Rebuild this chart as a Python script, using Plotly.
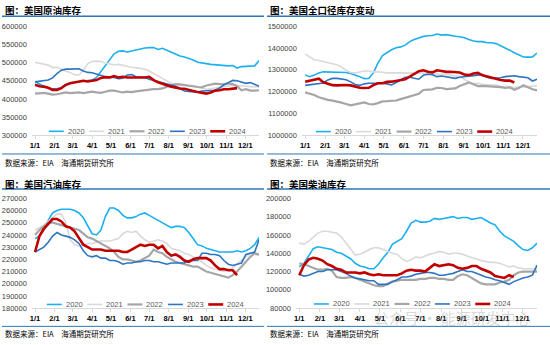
import numpy as np
import pandas as pd
import plotly.graph_objects as go

# ---------------- data (thousand barrels, weekly from 1/1) ----------------
years = ["2020", "2021", "2022", "2023", "2024"]
month_labels = ["1/1", "2/1", "3/1", "4/1", "5/1", "6/1", "7/1", "8/1", "9/1", "10/1", "11/1", "12/1"]

crude_2020 = [448,441,435,430,428,429,431,437,443,446, 448,450,451,452,459,475,491,508,524,531,
              532,529,532,534,536,540,541,541,536,539, 534,528,524,518,515,512,507,501,500,497,
              495,494,492,491,491,492,485,489,490,490, 491,506]
crude_2021 = [501,499,497,493,486,487,482,476,473,467, 466,479,497,503,504,503,499,496,494,495,
              492,490,487,486,485,482,477,470,463,456, 449,443,440,439,438,436,435,433,430,427,
              428,430,434,436,438,438,437,435,435,434, 433,433]
crude_2022 = [415,416,417,415,412,413,416,418,416,418, 418,416,418,420,418,417,420,423,423,420,
              418,420,419,421,423,425,427,427,427,429, 434,438,441,440,439,437,435,433,432,437,
              439,442,441,440,443,441,435,424,427,423, 423,424]
crude_2023 = [447,449,451,452,458,470,479,482,482,483, 483,477,473,472,468,463,461,459,459,456,
              457,466,467,461,459,459,454,451,447,445, 442,438,435,429,422,421,421,419,422,423,
              422,424,430,439,445,451,450,446,443,445, 439,435]
crude_2024 = [439,435,434,431,425,425,430,439,443,446, 448,450,448,450,452,458,460,459,463,459,
              461,459,459,458,458,459,461,452,446,443, 438,434,431,429,428,426,422,419,417,415,
              418,423,424,427,427,428,430]

total_2020 = [1276,1269,1276,1286,1291,1291,1291,1291,1291,1288, 1283,1277,1269,1260,1261,1286,1331,1365,1380,1392,
              1401,1405,1413,1429,1439,1447,1453,1456,1457,1464, 1459,1461,1459,1454,1451,1447,1439,1432,1429,1429,
              1424,1424,1420,1410,1402,1390,1378,1368,1359,1358, 1359,1377]
total_2021 = [1372,1358,1346,1343,1337,1332,1328,1323,1313,1298, 1288,1286,1291,1295,1295,1291,1291,1288,1286,1286,
              1286,1288,1288,1286,1286,1286,1285,1283,1283,1282, 1280,1279,1276,1272,1269,1257,1245,1237,1239,1234,
              1231,1231,1230,1224,1224,1224,1218,1223,1221,1224, 1226,1227]
total_2022 = [1197,1191,1185,1175,1168,1163,1159,1156,1150,1144, 1138,1142,1147,1151,1144,1142,1148,1156,1157,1157,
              1160,1166,1172,1178,1183,1191,1208,1209,1211,1218, 1217,1212,1212,1215,1226,1234,1242,1234,1226,1227,
              1226,1223,1221,1221,1217,1220,1209,1217,1230,1220, 1211,1206]
total_2023 = [1229,1231,1234,1236,1240,1254,1261,1261,1258,1255, 1245,1233,1229,1236,1239,1239,1242,1239,1236,1231,
              1242,1254,1266,1266,1261,1257,1275,1280,1278,1269, 1272,1269,1266,1261,1266,1269,1273,1276,1276,1278,
              1266,1261,1261,1264,1269,1272,1273,1269,1266,1264, 1249,1257]
total_2024 = [1246,1251,1257,1260,1243,1236,1230,1229,1231,1231, 1229,1224,1218,1217,1218,1230,1239,1239,1245,1246,
              1249,1252,1257,1269,1283,1294,1298,1291,1288,1298, 1295,1291,1291,1291,1288,1279,1276,1283,1286,1275,
              1269,1263,1258,1254,1251,1251,1242]

gasoline_2020 = [237,239,244,252,258,260,261,261,261,260, 258,254,247,241,240,244,255,262,262,260,
                 256,254,254,255,257,258,256,254,252,250, 248,246,247,247,246,242,237,232,231,229,
                 228,227,226,226,226,226,227,226,227,229, 232,238]
gasoline_2021 = [244,246,248,251,254,257,257,250,236,232, 231,232,233,233,234,235,235,235,236,237,
                 241,243,242,243,239,236,234,235,236,235, 233,229,228,227,225,224,222,220,218,215,
                 213,212,211,210,211,213,216,219,222,225, 224,223]
gasoline_2022 = [240,244,247,250,250,249,248,247,246,245, 244,241,238,237,235,233,231,229,226,222,
                 220,220,219,218,219,221,223,228,226,225, 222,220,218,217,216,215,214,214,212,210,
                 209,208,207,206,205,207,210,214,218,222, 225,224]
gasoline_2023 = [226,228,230,234,239,242,240,239,238,236, 233,227,223,222,223,221,221,219,219,218,
                 216,217,217,218,218,219,219,218,218,217, 216,217,217,217,217,219,219,219,225,225,
                 224,224,223,219,216,215,216,217,224,225, 226,236]
gasoline_2024 = [226,239,245,249,253,253,251,247,246,243, 238,232,230,228,228,228,227,227,227,227,
                 226,226,228,230,232,231,232,232,229,231, 226,223,224,222,219,218,220,221,221,221,
                 219,215,212,212,211,211,207]

distillate_2020 = [125,129,137,145,147,146,145,144,141,140, 137,134,129,126,125,123,123,128,135,141,
                   150,153,156,164,173,176,174,174,175,178, 177,178,179,180,178,179,179,177,178,179,
                   176,173,171,164,159,156,153,148,144,143, 146,151]
distillate_2021 = [151,150,153,158,162,164,164,163,162,158, 151,144,138,139,141,144,146,146,144,142,
                   140,139,134,131,133,136,135,137,139,140, 142,141,139,140,140,139,137,135,134,132,
                   131,130,130,129,127,125,126,124,123,123, 123,122]
distillate_2022 = [129,128,126,124,122,122,123,121,114,113, 113,114,113,111,109,107,105,104,104,107,
                   109,110,111,111,111,111,112,112,113,113, 112,112,111,111,115,117,116,113,110,107,
                   106,106,106,108,109,111,116,119,120,120, 120,120]
distillate_2023 = [117,115,116,118,120,120,122,122,122,120, 118,115,113,112,111,110,110,106,106,106,
                   109,111,114,114,115,117,118,119,119,118, 116,116,117,118,120,122,120,120,118,116,
                   114,113,111,110,108,106,109,111,113,114, 116,127]
distillate_2024 = [116,127,133,135,134,132,128,126,123,122, 119,119,119,118,119,117,116,117,116,116,
                   116,116,118,121,122,121,121,120,124,128, 126,127,128,127,124,123,124,126,126,123,
                   121,119,115,114,113,116,114]

crude = [crude_2020, crude_2021, crude_2022, crude_2023, crude_2024]
total = [total_2020, total_2021, total_2022, total_2023, total_2024]
gasoline = [gasoline_2020, gasoline_2021, gasoline_2022, gasoline_2023, gasoline_2024]
distillate = [distillate_2020, distillate_2021, distillate_2022, distillate_2023, distillate_2024]

titles = ["图：美国原油库存", "图：美国全口径库存变动", "图：美国汽油库存", "图：美国柴油库存"]
source_text = "数据来源：EIA　海通期货研究所"

# ---------------- style ----------------
W, H = 550, 345
colors = ["#1CB0EE", "#D9D9D9", "#A6A6A6", "#2E75C0", "#C00000"]
widths = [1.6, 1.6, 2.2, 1.6, 2.6]
CJK = "Noto Sans CJK SC"
NUM = "Liberation Sans"
BLUE = "#2E75B6"


def px(x):
    return x / W


def py(y):
    return 1 - y / H


weeks = pd.date_range("2024-01-01", periods=52, freq="7D")
month_ticks = pd.date_range("2024-01-01", periods=12, freq="MS")
xr = ["2023-12-27", "2024-12-23"]

panels = [
    dict(data=crude, xdom=(30, 258), ydom=(22.7, 135), yr=(300000, 600000), dt=50000,
         left=0, right=263, tline=12.5, bline=154, src=162.5, ty=6.5, leg=(47, 130.7)),
    dict(data=total, xdom=(301, 537), ydom=(22.7, 135), yr=(1000000, 1500000), dt=100000,
         left=266, right=550, tline=12.5, bline=154, src=162.5, ty=6.5, leg=(315, 131.0)),
    dict(data=gasoline, xdom=(30, 258), ydom=(199.5, 312.3), yr=(180000, 270000), dt=10000,
         left=0, right=263, tline=190, bline=331, src=338, ty=184.5, leg=(45, 308.5)),
    dict(data=distillate, xdom=(295, 537), ydom=(199.5, 312.3), yr=(80000, 200000), dt=20000,
         left=266, right=550, tline=190, bline=331, src=338, ty=184.5, leg=(313, 308.0)),
]

fig = go.Figure()
shapes = []
annotations = []
layout_axes = {}

for k, p in enumerate(panels):
    sfx = "" if k == 0 else str(k + 1)
    for i, yr in enumerate(years):
        vals = np.array(p["data"][i], dtype=float) * 1000
        fig.add_trace(go.Scatter(
            x=weeks[:len(vals)], y=vals, mode="lines", name=yr,
            line=dict(color=colors[i], width=widths[i]),
            xaxis="x" + sfx, yaxis="y" + sfx, showlegend=False, hoverinfo="skip"))
    layout_axes["xaxis" + sfx] = dict(
        domain=[px(p["xdom"][0]), px(p["xdom"][1])], anchor="y" + sfx,
        type="date", range=xr, tickvals=list(month_ticks), ticktext=month_labels,
        showgrid=False, zeroline=False, showline=True, linecolor="#D9D9D9", linewidth=1,
        ticks="outside", ticklen=3, tickcolor="#D9D9D9",
        tickfont=dict(family=NUM, size=7.5, color="#000000", weight="bold"),
    )
    layout_axes["yaxis" + sfx] = dict(
        domain=[py(p["ydom"][1]), py(p["ydom"][0])], anchor="x" + sfx,
        range=list(p["yr"]), dtick=p["dt"], tickformat="d",
        showgrid=False, zeroline=False, showline=False, ticks="",
        ticklabelstandoff=4,
        tickfont=dict(family=NUM, size=7.5, color="#404040"),
    )
    # title and rules
    annotations.append(dict(text="<b>" + titles[k] + "</b>", x=px(p["left"] + 1), y=py(p["ty"]),
                            xref="paper", yref="paper", xanchor="left", yanchor="middle",
                            showarrow=False, font=dict(family=CJK, size=9.5, color="#000000")))
    annotations.append(dict(text=source_text, x=px(p["left"] + 1), y=py(p["src"]),
                            xref="paper", yref="paper", xanchor="left", yanchor="middle",
                            showarrow=False, font=dict(family=CJK, size=7.5, color="#000000")))
    shapes.append(dict(type="line", xref="paper", yref="paper",
                       x0=px(p["left"]), x1=px(p["right"]), y0=py(p["tline"]), y1=py(p["tline"]),
                       line=dict(color=BLUE, width=1.5)))
    shapes.append(dict(type="line", xref="paper", yref="paper",
                       x0=px(p["left"]), x1=px(p["right"]), y0=py(p["bline"]), y1=py(p["bline"]),
                       line=dict(color=BLUE, width=1)))
    # custom legend
    lx, ly = p["leg"]
    for i, yr in enumerate(years):
        x0 = lx + i * 40.5
        shapes.append(dict(type="line", xref="paper", yref="paper",
                           x0=px(x0), x1=px(x0 + 15), y0=py(ly), y1=py(ly),
                           line=dict(color=colors[i], width=widths[i])))
        annotations.append(dict(text=yr, x=px(x0 + 17), y=py(ly), xref="paper", yref="paper",
                                xanchor="left", yanchor="middle", showarrow=False,
                                font=dict(family=NUM, size=7.5, color="#595959")))

# watermark
annotations.append(dict(text="公众号 · 能源研发中心", x=px(533), y=py(322), xref="paper", yref="paper",
                        xanchor="right", yanchor="middle", showarrow=False,
                        font=dict(family=CJK, size=15, color="rgba(140,140,140,0.35)")))

fig.update_layout(
    width=W, height=H, margin=dict(l=0, r=0, t=0, b=0),
    paper_bgcolor="white", plot_bgcolor="white",
    showlegend=False, shapes=shapes, annotations=annotations,
    **layout_axes,
)

fig.write_html("out.html", config={"displayModeBar": False})
